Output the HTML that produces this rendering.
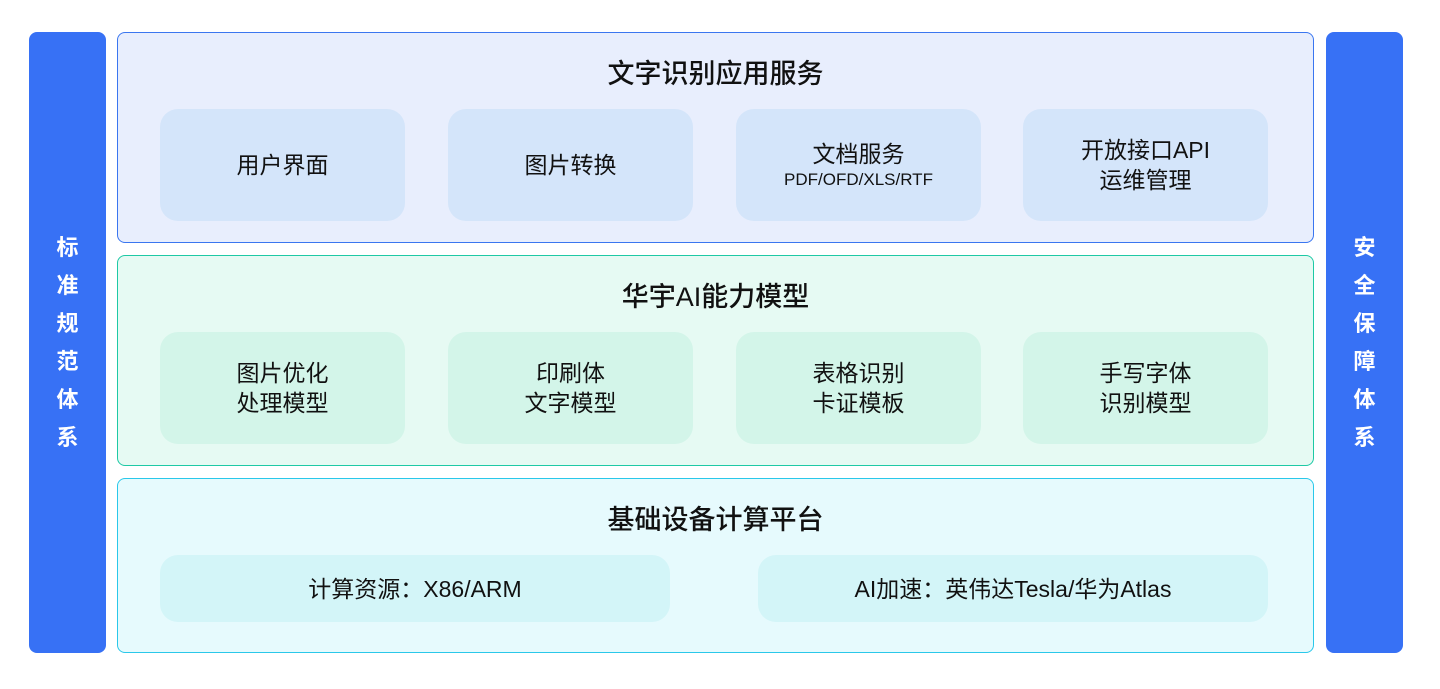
<!DOCTYPE html>
<html><head><meta charset="utf-8"><style>
body{margin:0;width:1440px;height:689px;background:#fff;position:relative;overflow:hidden;font-family:"Liberation Sans","Noto Sans CJK SC",sans-serif;color:#111}
.a{position:absolute;box-sizing:border-box}
.side{background:#3771f5;border-radius:8px;color:#fff;font-size:22px;font-weight:bold;display:flex;flex-direction:column;align-items:center;justify-content:center;line-height:38px}
.layer{border-radius:8px;border:1px solid}
.t{position:absolute;left:0;right:0;text-align:center;font-size:27px;font-weight:500}
.b{border-radius:18px;display:flex;flex-direction:column;align-items:center;justify-content:center;font-size:23px;line-height:30px;text-align:center}
</style></head><body>
<div class="a side" style="left:29px;top:32px;width:77px;height:621px"><div>标</div><div>准</div><div>规</div><div>范</div><div>体</div><div>系</div></div>
<div class="a side" style="left:1326px;top:32px;width:77px;height:621px"><div>安</div><div>全</div><div>保</div><div>障</div><div>体</div><div>系</div></div>

<div class="a layer" style="left:117px;top:32px;width:1197px;height:211px;background:#e8eefd;border-color:#3a76f0"><div class="t" style="top:19px">文字识别应用服务</div></div>
<div class="a b" style="left:160px;top:109px;width:245px;height:112px;background:#d4e5fa">用户界面</div>
<div class="a b" style="left:448px;top:109px;width:245px;height:112px;background:#d4e5fa">图片转换</div>
<div class="a b" style="left:736px;top:109px;width:245px;height:112px;background:#d4e5fa"><div>文档服务</div><div style="font-size:17px;line-height:22px">PDF/OFD/XLS/RTF</div></div>
<div class="a b" style="left:1023px;top:109px;width:245px;height:112px;background:#d4e5fa"><div>开放接口API</div><div>运维管理</div></div>

<div class="a layer" style="left:117px;top:255px;width:1197px;height:211px;background:#e6faf3;border-color:#1ec9a5"><div class="t" style="top:19px">华宇AI能力模型</div></div>
<div class="a b" style="left:160px;top:332px;width:245px;height:112px;background:#d3f5e9"><div>图片优化</div><div>处理模型</div></div>
<div class="a b" style="left:448px;top:332px;width:245px;height:112px;background:#d3f5e9"><div>印刷体</div><div>文字模型</div></div>
<div class="a b" style="left:736px;top:332px;width:245px;height:112px;background:#d3f5e9"><div>表格识别</div><div>卡证模板</div></div>
<div class="a b" style="left:1023px;top:332px;width:245px;height:112px;background:#d3f5e9"><div>手写字体</div><div>识别模型</div></div>

<div class="a layer" style="left:117px;top:478px;width:1197px;height:175px;background:#e6fafd;border-color:#2ac8ea"><div class="t" style="top:19px">基础设备计算平台</div></div>
<div class="a b" style="left:160px;top:555px;width:510px;height:67px;background:#d3f5f8">计算资源：X86/ARM</div>
<div class="a b" style="left:758px;top:555px;width:510px;height:67px;background:#d3f5f8">AI加速：英伟达Tesla/华为Atlas</div>
</body></html>
